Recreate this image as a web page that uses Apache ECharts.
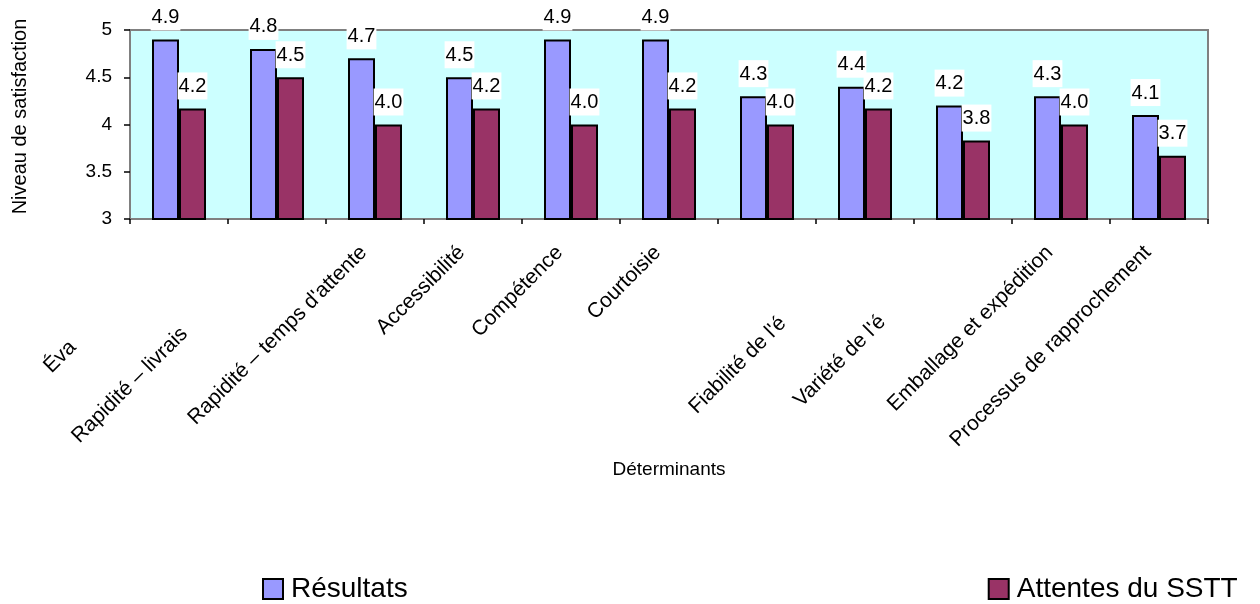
<!DOCTYPE html>
<html>
<head>
<meta charset="utf-8">
<script src="https://cdn.jsdelivr.net/npm/echarts@6/dist/echarts.min.js"></script>
<style>
html,body{margin:0;padding:0;background:#fff;}
#chart{width:1260px;height:604px;}
</style>
</head>
<body>
<div id="chart"></div>
<script>
// ---- data ----
const categories = ["Éva", "Rapidité – livrais", "Rapidité – temps d'attente", "Accessibilité", "Compétence", "Courtoisie", "", "Fiabilité de l'é", "Variété de l'é", "Emballage et expédition", "Processus de rapprochement"];
const resultats = [4.9, 4.8, 4.7, 4.5, 4.9, 4.9, 4.3, 4.4, 4.2, 4.3, 4.1];
const attentes = [4.17, 4.5, 4.0, 4.17, 4.0, 4.17, 4.0, 4.17, 3.83, 4.0, 3.67];
const seriesNames = ["Résultats", "Attentes du SSTT"];
const yTicks = { min: 3, max: 5, interval: 0.5 };

// ---- layout (label shifts along the rotated baseline, px) ----
const labelShift = [138, 119, 4, 4, 4, 4, 4, 104, 102, 4, 4];

const FONT = "'Liberation Sans', Arial, sans-serif";
const rich = {};
labelShift.forEach((s, i) => {
  rich['s' + i] = { padding: [0, s, 24, 0], fontSize: 21, fontFamily: FONT, color: '#000' };
});

const valueLabel = {
  show: true,
  position: 'top',
  distance: 9,
  formatter: p => p.value.toFixed(1),
  backgroundColor: '#ffffff',
  padding: [4, 1, 3, 1],
  fontSize: 20,
  fontFamily: FONT,
  color: '#000'
};

const chart = echarts.init(document.getElementById('chart'));
chart.setOption({
  animation: false,
  textStyle: { fontFamily: FONT },
  grid: {
    left: 130, right: 52, top: 30, bottom: 385,
    show: true, backgroundColor: '#CCFFFF', borderColor: '#808080', borderWidth: 2
  },
  legend: {
    data: seriesNames,
    left: 262, top: 575, padding: 0,
    itemWidth: 20, itemHeight: 20, itemGap: 580,
    icon: 'rect',
    itemStyle: { borderColor: '#000', borderWidth: 2 },
    textStyle: { fontSize: 28, fontFamily: FONT, color: '#000', padding: [0, 0, 0, 3] }
  },
  xAxis: {
    type: 'category',
    data: categories,
    name: 'Déterminants',
    nameLocation: 'middle',
    nameGap: 241,
    nameTextStyle: { fontSize: 19, fontFamily: FONT, color: '#000' },
    axisLine: { lineStyle: { color: '#808080', width: 2 } },
    axisTick: { show: true, length: 5, lineStyle: { color: '#000', width: 1.5 } },
    axisLabel: {
      interval: 0, rotate: 45, margin: 36,
      formatter: (v, i) => v ? '{s' + i + '|' + v + '}' : '',
      rich: rich,
      fontSize: 21, color: '#000'
    },
    splitLine: { show: false }
  },
  yAxis: {
    type: 'value',
    min: yTicks.min, max: yTicks.max, interval: yTicks.interval,
    name: 'Niveau de satisfaction',
    nameLocation: 'middle',
    nameGap: 100,
    nameTextStyle: { fontSize: 20, fontFamily: FONT, color: '#000', padding: [0, 0, 0, 16] },
    axisLine: { show: true, lineStyle: { color: '#808080', width: 2 } },
    axisTick: { show: true, length: 6, lineStyle: { color: '#000', width: 1.5 } },
    axisLabel: { fontSize: 19, color: '#000', margin: 18, fontFamily: FONT },
    splitLine: { show: false }
  },
  series: [
    {
      name: seriesNames[0], type: 'bar', data: resultats,
      barWidth: 27, barGap: '0%',
      itemStyle: { color: '#9999FF', borderColor: '#000', borderWidth: 2 },
      label: valueLabel
    },
    {
      name: seriesNames[1], type: 'bar', data: attentes,
      barWidth: 27,
      itemStyle: { color: '#993366', borderColor: '#000', borderWidth: 2 },
      label: valueLabel
    }
  ]
});
</script>
</body>
</html>
